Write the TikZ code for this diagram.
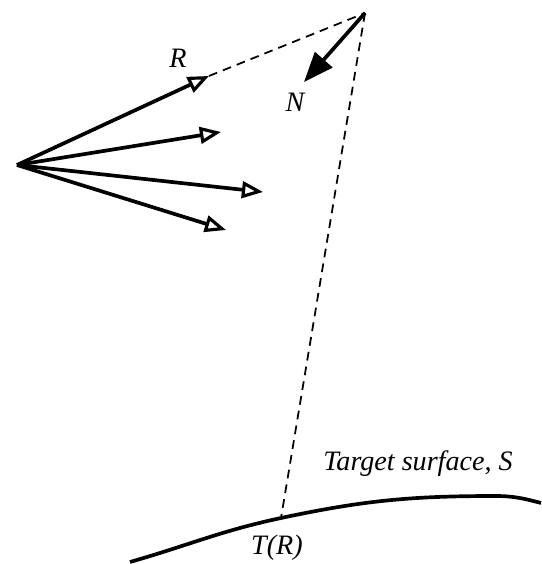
\documentclass[tikz,border=0pt]{standalone}
\usepackage{fontspec}
\setmainfont{Liberation Serif}
\usetikzlibrary{arrows.meta}

\begin{document}
\begin{tikzpicture}[
    x=0.02cm, y=-0.02cm,
    ray/.style={-{Triangle[open, length=12pt, width=9.5pt, line width=1.8pt]}, line width=2.1pt},
    normal/.style={-{Triangle[length=17pt, width=13pt]}, line width=2.1pt},
    guide/.style={dashed, line width=1pt, dash pattern=on 5pt off 3.5pt},
    surface/.style={line width=2.1pt},
    lbl/.style={font=\fontsize{16}{18}\selectfont\itshape, inner sep=0pt}
]
    \useasboundingbox (0,0) rectangle (541,564);

    \coordinate (o) at (17,165);
    \coordinate (p) at (365,13);
    \coordinate (tr) at (281,518);

    \coordinate (r1) at (209,76);
    \coordinate (r2) at (221,132);
    \coordinate (r3) at (263,192);
    \coordinate (r4) at (226,230);
    \coordinate (n) at (304,82);

    % incident rays
    \draw[ray] (o) -- (r1);
    \draw[ray] (o) -- (r2);
    \draw[ray] (o) -- (r3);
    \draw[ray] (o) -- (r4);

    % construction lines
    \draw[guide] (r1) -- (p);
    \draw[guide] (p) -- (tr);
    \draw[normal] (p) -- (n);

    % target surface
    \draw[surface] (130,562) to[out=16,in=192] (tr) to[out=12,in=180] (495,496) to[out=0,in=165] (541,503);

    \node[lbl] (rl) at (178,58) {R};
    \node[lbl] (nl) at (295,102) {N};
    \node[lbl] (tl) at (277,548) {T(R)};
    \node[lbl] (sl) at (418,464) {Target surface, S};
\end{tikzpicture}
\end{document}
